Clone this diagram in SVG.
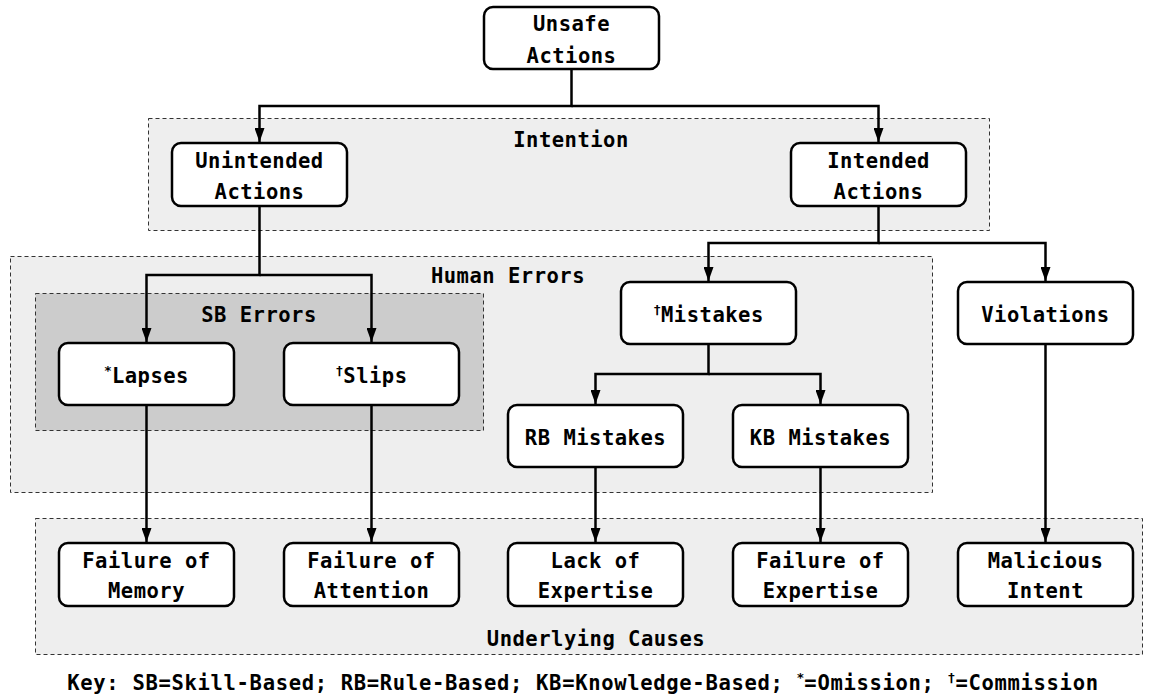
<svg xmlns="http://www.w3.org/2000/svg" width="1151" height="698" viewBox="0 0 1151 698">
  <defs>
    <marker id="arrow" viewBox="0 0 14 10" refX="14" refY="5" markerWidth="14" markerHeight="10" markerUnits="userSpaceOnUse" orient="auto">
      <path d="M0,0 L14,5 L0,10 z" fill="#000"/>
    </marker>
    <style>
      text { font-family: "DejaVu Sans Mono", "Liberation Mono", monospace; font-weight: bold; font-size: 20.5px; letter-spacing: 0.5px; fill: #000; text-anchor: middle; }
      .sup { font-size: 13px; letter-spacing: 0; }
      .key { letter-spacing: 0.68px; }
      .node { fill: #fff; stroke: #000; stroke-width: 2.5; }
      .region { fill: #eeeeee; stroke: #333; stroke-width: 1; stroke-dasharray: 4 3; }
      .region.dark { fill: #cccccc; }
      .conn { fill: none; stroke: #000; stroke-width: 2.5; }
    </style>
  </defs>
  <rect width="1151" height="698" fill="#fff"/>

  <!-- grouping regions -->
  <g id="regions">
    <rect class="region" x="148.5" y="118.5" width="841" height="112"/>
    <text x="571" y="147">Intention</text>
    <rect class="region" x="10.5" y="256.5" width="922" height="236"/>
    <text x="508" y="283">Human Errors</text>
    <rect class="region dark" x="35.5" y="293.5" width="448" height="137"/>
    <text x="259" y="322">SB Errors</text>
    <rect class="region" x="35.5" y="518.5" width="1107" height="136"/>
    <text x="596" y="646">Underlying Causes</text>
  </g>

  <!-- connectors -->
  <g id="connectors">
    <path class="conn" d="M571.5,69 V106 H259.5 V142" marker-end="url(#arrow)"/>
    <path class="conn" d="M571.5,106 H878.5 V142" marker-end="url(#arrow)"/>
    <path class="conn" d="M259.5,206 V275 H146.5 V342" marker-end="url(#arrow)"/>
    <path class="conn" d="M259.5,275 H371.5 V342" marker-end="url(#arrow)"/>
    <path class="conn" d="M878.5,206 V243 H708.5 V281" marker-end="url(#arrow)"/>
    <path class="conn" d="M878.5,243 H1045.5 V281" marker-end="url(#arrow)"/>
    <path class="conn" d="M708.5,344 V374 H595.5 V404" marker-end="url(#arrow)"/>
    <path class="conn" d="M708.5,374 H820.5 V404" marker-end="url(#arrow)"/>
    <path class="conn" d="M146.5,405 V542" marker-end="url(#arrow)"/>
    <path class="conn" d="M371.5,405 V542" marker-end="url(#arrow)"/>
    <path class="conn" d="M595.5,467 V542" marker-end="url(#arrow)"/>
    <path class="conn" d="M820.5,467 V542" marker-end="url(#arrow)"/>
    <path class="conn" d="M1045.5,344 V542" marker-end="url(#arrow)"/>
  </g>

  <!-- nodes -->
  <g id="unsafe-actions">
    <rect class="node" x="484" y="7" width="175" height="62" rx="9"/>
    <text x="571.5" y="31">Unsafe</text>
    <text x="571.5" y="63">Actions</text>
  </g>
  <g id="unintended-actions">
    <rect class="node" x="172" y="143" width="175" height="63" rx="9"/>
    <text x="259.5" y="168">Unintended</text>
    <text x="259.5" y="199">Actions</text>
  </g>
  <g id="intended-actions">
    <rect class="node" x="791" y="143" width="175" height="63" rx="9"/>
    <text x="878.5" y="168">Intended</text>
    <text x="878.5" y="199">Actions</text>
  </g>
  <g id="lapses">
    <rect class="node" x="59" y="343" width="175" height="62" rx="9"/>
    <text x="146.5" y="383"><tspan class="sup" dy="-8">*</tspan><tspan dy="8">Lapses</tspan></text>
  </g>
  <g id="slips">
    <rect class="node" x="284" y="343" width="175" height="62" rx="9"/>
    <text x="371.5" y="383"><tspan class="sup" dy="-8">†</tspan><tspan dy="8">Slips</tspan></text>
  </g>
  <g id="mistakes">
    <rect class="node" x="621" y="282" width="175" height="62" rx="9"/>
    <text x="708.5" y="322"><tspan class="sup" dy="-8">†</tspan><tspan dy="8">Mistakes</tspan></text>
  </g>
  <g id="violations">
    <rect class="node" x="958" y="282" width="175" height="62" rx="9"/>
    <text x="1045.5" y="322">Violations</text>
  </g>
  <g id="rb-mistakes">
    <rect class="node" x="508" y="405" width="175" height="62" rx="9"/>
    <text x="595.5" y="445">RB Mistakes</text>
  </g>
  <g id="kb-mistakes">
    <rect class="node" x="733" y="405" width="175" height="62" rx="9"/>
    <text x="820.5" y="445">KB Mistakes</text>
  </g>
  <g id="failure-of-memory">
    <rect class="node" x="59" y="543" width="175" height="63" rx="9"/>
    <text x="146.5" y="568">Failure of</text>
    <text x="146.5" y="598">Memory</text>
  </g>
  <g id="failure-of-attention">
    <rect class="node" x="284" y="543" width="175" height="63" rx="9"/>
    <text x="371.5" y="568">Failure of</text>
    <text x="371.5" y="598">Attention</text>
  </g>
  <g id="lack-of-expertise">
    <rect class="node" x="508" y="543" width="175" height="63" rx="9"/>
    <text x="595.5" y="568">Lack of</text>
    <text x="595.5" y="598">Expertise</text>
  </g>
  <g id="failure-of-expertise">
    <rect class="node" x="733" y="543" width="175" height="63" rx="9"/>
    <text x="820.5" y="568">Failure of</text>
    <text x="820.5" y="598">Expertise</text>
  </g>
  <g id="malicious-intent">
    <rect class="node" x="958" y="543" width="175" height="63" rx="9"/>
    <text x="1045.5" y="568">Malicious</text>
    <text x="1045.5" y="598">Intent</text>
  </g>

  <!-- key -->
  <g id="key">
    <text class="key" x="583" y="690">Key: SB=Skill-Based; RB=Rule-Based; KB=Knowledge-Based; <tspan class="sup" dy="-8">*</tspan><tspan dy="8">=Omission; </tspan><tspan class="sup" dy="-8">†</tspan><tspan dy="8">=Commission</tspan></text>
  </g>
</svg>
